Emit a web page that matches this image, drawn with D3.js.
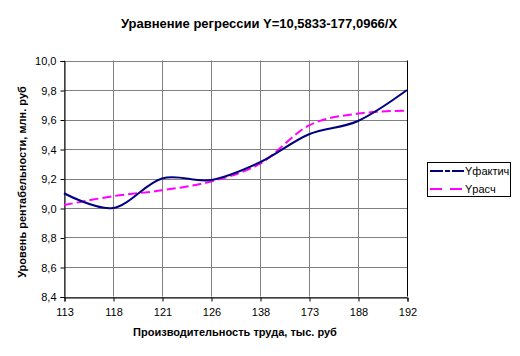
<!DOCTYPE html>
<html><head><meta charset="utf-8">
<script src="https://cdn.jsdelivr.net/npm/d3@7"></script>
<style>body{margin:0;background:#fff}svg{display:block}text{font-family:"Liberation Sans",Arial,sans-serif}</style>
</head><body>
<svg id="c" width="520" height="356"></svg>
<script>
const categories = ["113","118","121","126","138","173","188","192"];
const yFact = [9.10, 9.00, 9.20, 9.19, 9.31, 9.50, 9.59, 9.80];
const yCalc = [9.02, 9.08, 9.12, 9.18, 9.30, 9.56, 9.64, 9.66];
const yTicks = [8.4, 8.6, 8.8, 9.0, 9.2, 9.4, 9.6, 9.8, 10.0];
const seriesNames = ["Yфактич", "Yрасч"];

const svg = d3.select("#c");
const L = 64, R = 407, T = 60.5, B = 296.5;
const x = d3.scalePoint().domain(categories).range([L, R]).padding(0);
const y = d3.scaleLinear().domain([8.4, 10.0]).range([B, T]);
const fmt = v => d3.format(".1f")(v).replace(".", ",");

// gridlines
svg.append("g").selectAll("line.h").data(yTicks).join("line")
  .attr("x1", L).attr("x2", R).attr("y1", d => Math.round(y(d)) + 0.5).attr("y2", d => Math.round(y(d)) + 0.5)
  .attr("stroke", "#808080").attr("stroke-width", 1);
svg.append("g").selectAll("line.v").data(categories).join("line")
  .attr("x1", d => Math.round(x(d)) + 0.5).attr("x2", d => Math.round(x(d)) + 0.5).attr("y1", T).attr("y2", B)
  .attr("stroke", d => d === categories[categories.length - 1] ? "#000" : "#808080").attr("stroke-width", 1);

// axes
const yAxis = d3.axisLeft(y).tickValues(yTicks).tickFormat(fmt).tickSize(4).tickPadding(4);
const gy = svg.append("g").attr("transform", `translate(${L + 0.5},0.5)`).call(yAxis);
const xAxis = d3.axisBottom(x).tickSize(4).tickPadding(7);
const gx = svg.append("g").attr("transform", `translate(0.5,${Math.round(B) + 0.5})`).call(xAxis);
[gy, gx].forEach(g => {
  g.select(".domain").attr("stroke", "#000");
  g.selectAll(".tick line").attr("stroke", "#000");
  g.selectAll("text").attr("fill", "#000").attr("font-size", 11).attr("font-family", '"Liberation Sans",Arial,sans-serif');
});
gy.selectAll("text").attr("dy", "0.35em");

// lines
const line = d3.line().x((d, i) => x(categories[i])).y(d => y(d)).curve(d3.curveCardinal.tension(0));
svg.append("path").datum(yCalc).attr("d", line).attr("fill", "none")
  .attr("stroke", "#FF00FF").attr("stroke-width", 2).attr("stroke-dasharray", "9,4");
svg.append("path").datum(yFact).attr("d", line).attr("fill", "none")
  .attr("stroke", "#000080").attr("stroke-width", 2);

// title
svg.append("text").attr("x", 259).attr("y", 28).attr("text-anchor", "middle")
  .attr("font-size", 13).attr("font-weight", "bold").text("Уравнение регрессии Y=10,5833-177,0966/X");
svg.append("text").attr("x", 235).attr("y", 336).attr("text-anchor", "middle")
  .attr("font-size", 11).attr("font-weight", "bold").text("Производительность труда, тыс. руб");
svg.append("text").attr("transform", "translate(26,182) rotate(-90)").attr("text-anchor", "middle")
  .attr("font-size", 11).attr("font-weight", "bold").text("Уровень рентабельности, млн. руб");

// legend
const lg = svg.append("g");
lg.append("rect").attr("x", 427.5).attr("y", 162.5).attr("width", 83).attr("height", 34)
  .attr("fill", "#fff").attr("stroke", "#000").attr("stroke-width", 1);
const styles = [{c: "#000080", d: "13,2,5,2"}, {c: "#FF00FF", d: "12,8"}];
seriesNames.forEach((n, i) => {
  const yy = 171 + i * 18;
  lg.append("line").attr("x1", 430).attr("x2", 464).attr("y1", yy).attr("y2", yy)
    .attr("stroke", styles[i].c).attr("stroke-width", 2).attr("stroke-dasharray", styles[i].d);
  lg.append("text").attr("x", 465).attr("y", yy).attr("dy", "0.35em").attr("font-size", 11).text(n);
});
</script>
</body></html>
